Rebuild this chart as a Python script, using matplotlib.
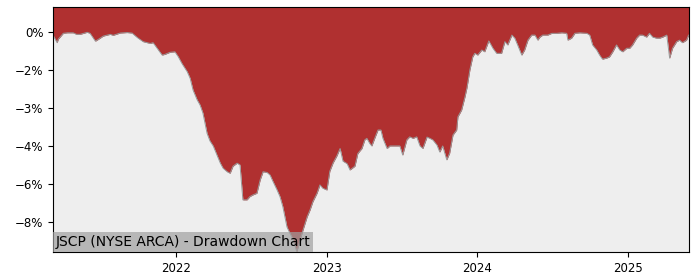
import pandas as pd
import matplotlib
matplotlib.use("Agg")
import matplotlib.pyplot as plt
import matplotlib.dates as mdates
from matplotlib.ticker import PercentFormatter, FixedLocator

# drawdown in percent
dates = [
    "2021-03-08", "2021-03-18", "2021-03-21", "2021-04-02", "2021-04-12", "2021-04-26",
    "2021-05-04", "2021-05-13", "2021-05-30", "2021-06-06", "2021-06-19", "2021-06-26",
    "2021-07-08", "2021-07-25", "2021-08-01", "2021-08-18", "2021-09-04", "2021-09-16",
    "2021-09-29", "2021-10-13", "2021-10-30", "2021-11-06", "2021-11-16", "2021-11-28",
    "2021-12-05", "2021-12-17", "2021-12-29", "2022-01-06", "2022-01-15", "2022-01-28",
    "2022-02-04", "2022-02-11", "2022-02-21", "2022-02-28", "2022-03-07", "2022-03-17",
    "2022-03-24", "2022-04-01", "2022-04-10", "2022-04-18", "2022-04-25", "2022-05-05",
    "2022-05-12", "2022-05-19", "2022-05-29", "2022-06-05", "2022-06-12", "2022-06-22",
    "2022-06-29", "2022-07-07", "2022-07-16", "2022-07-24", "2022-07-31", "2022-08-10",
    "2022-08-17", "2022-08-24", "2022-09-03", "2022-09-10", "2022-09-17", "2022-09-27",
    "2022-10-04", "2022-10-12", "2022-10-21", "2022-10-29", "2022-11-05", "2022-11-15",
    "2022-11-22", "2022-11-29", "2022-12-09", "2022-12-16", "2022-12-23", "2023-01-02",
    "2023-01-09", "2023-01-17", "2023-01-26", "2023-02-03", "2023-02-10", "2023-02-20",
    "2023-02-27", "2023-03-11", "2023-03-18", "2023-03-28", "2023-04-04", "2023-04-09",
    "2023-04-16", "2023-04-21", "2023-04-28", "2023-05-06", "2023-05-13", "2023-05-18",
    "2023-05-28", "2023-06-04", "2023-06-16", "2023-06-28", "2023-07-05", "2023-07-15",
    "2023-07-22", "2023-07-30", "2023-08-08", "2023-08-16", "2023-08-23", "2023-09-02",
    "2023-09-09", "2023-09-16", "2023-09-26", "2023-10-03", "2023-10-10", "2023-10-20",
    "2023-10-27", "2023-11-04", "2023-11-13", "2023-11-16", "2023-11-25", "2023-12-03",
    "2023-12-08", "2023-12-15", "2023-12-22", "2023-12-27", "2024-01-03", "2024-01-13",
    "2024-01-20", "2024-01-30", "2024-02-09", "2024-02-18", "2024-03-01", "2024-03-09",
    "2024-03-16", "2024-03-26", "2024-04-02", "2024-04-09", "2024-04-19", "2024-04-26",
    "2024-05-04", "2024-05-13", "2024-05-21", "2024-05-28", "2024-06-02", "2024-06-09",
    "2024-06-21", "2024-07-01", "2024-07-13", "2024-07-25", "2024-08-06", "2024-08-09",
    "2024-08-18", "2024-08-26", "2024-09-07", "2024-09-24", "2024-10-01", "2024-10-08",
    "2024-10-18", "2024-10-25", "2024-11-01", "2024-11-11", "2024-11-18", "2024-11-26",
    "2024-12-05", "2024-12-13", "2024-12-20", "2024-12-30", "2025-01-06", "2025-01-13",
    "2025-01-23", "2025-01-30", "2025-02-06", "2025-02-16", "2025-02-23", "2025-03-03",
    "2025-03-12", "2025-03-20", "2025-03-27", "2025-04-06", "2025-04-13", "2025-04-20",
    "2025-04-30", "2025-05-07", "2025-05-14", "2025-05-24", "2025-05-29",
]
drawdown = [
    -0.12, -0.42, -0.28, -0.05, -0.03, -0.03,
    -0.09, -0.09, -0.01, -0.05, -0.36, -0.29,
    -0.16, -0.09, -0.13, -0.04, -0.02, -0.04,
    -0.22, -0.38, -0.45, -0.42, -0.64, -0.91,
    -0.88, -0.80, -0.78, -0.97, -1.24, -1.57,
    -1.83, -2.29, -2.68, -2.88, -3.20, -4.00,
    -4.30, -4.50, -4.86, -5.17, -5.38, -5.52,
    -5.58, -5.30, -5.18, -5.25, -6.63, -6.63,
    -6.50, -6.43, -6.37, -5.84, -5.52, -5.55,
    -5.65, -5.90, -6.24, -6.50, -6.90, -7.70,
    -7.94, -8.20, -8.68, -8.20, -7.82, -7.30,
    -7.03, -6.70, -6.37, -6.04, -6.17, -6.24,
    -5.50, -5.17, -4.90, -4.60, -5.10, -5.20,
    -5.45, -5.30, -4.80, -4.60, -4.26, -4.20,
    -4.40, -4.50, -4.20, -3.87, -3.87, -4.20,
    -4.60, -4.50, -4.50, -4.50, -4.86, -4.26,
    -4.14, -4.20, -4.14, -4.50, -4.60, -4.15,
    -4.20, -4.26, -4.46, -4.74, -4.50, -5.05,
    -4.78, -4.07, -3.87, -3.35, -3.08, -2.57,
    -2.20, -1.50, -0.98, -0.84, -0.91, -0.71,
    -0.78, -0.35, -0.64, -0.84, -0.84, -0.38,
    -0.51, -0.12, -0.24, -0.51, -0.91, -0.71,
    -0.32, -0.12, -0.12, -0.32, -0.20, -0.12,
    -0.12, -0.05, -0.05, -0.03, -0.05, -0.32,
    -0.24, -0.05, -0.03, -0.05, -0.12, -0.51,
    -0.71, -0.91, -1.07, -1.03, -0.98, -0.78,
    -0.51, -0.71, -0.78, -0.64, -0.64, -0.51,
    -0.24, -0.12, -0.12, -0.20, -0.05, -0.20,
    -0.24, -0.24, -0.20, -0.12, -1.03, -0.64,
    -0.38, -0.32, -0.42, -0.32, -0.12,
]
title = "JSCP (NYSE ARCA) - Drawdown Chart"
yticks = [0, -1.5, -3, -4.5, -6, -7.5]

df = pd.DataFrame({"date": pd.to_datetime(dates), "dd": drawdown})

fig = plt.figure(figsize=(7, 2.8), dpi=100)
ax = fig.add_axes([0.0757, 0.1, 0.908, 0.875])
ax.set_facecolor("#eeeeee")

top = 0.99
ax.fill_between(df["date"], df["dd"], top, color="#b03030", linewidth=0)
ax.plot(df["date"], df["dd"], color="#999999", linewidth=0.7)

ax.set_ylim(-8.69, top)
ax.set_xlim(df["date"].iloc[0], df["date"].iloc[-1])
ax.yaxis.set_major_locator(FixedLocator(yticks))
ax.yaxis.set_major_formatter(PercentFormatter(decimals=0))
ax.xaxis.set_major_locator(mdates.YearLocator())
ax.xaxis.set_major_formatter(mdates.DateFormatter("%Y"))
ax.tick_params(labelsize=8.5)

ax.text(0.004, 0.012, title, transform=ax.transAxes, fontsize=10,
        ha="left", va="bottom",
        bbox=dict(facecolor="#a0a0a0", alpha=0.7, edgecolor="none", pad=2))

fig.savefig("out.png")
